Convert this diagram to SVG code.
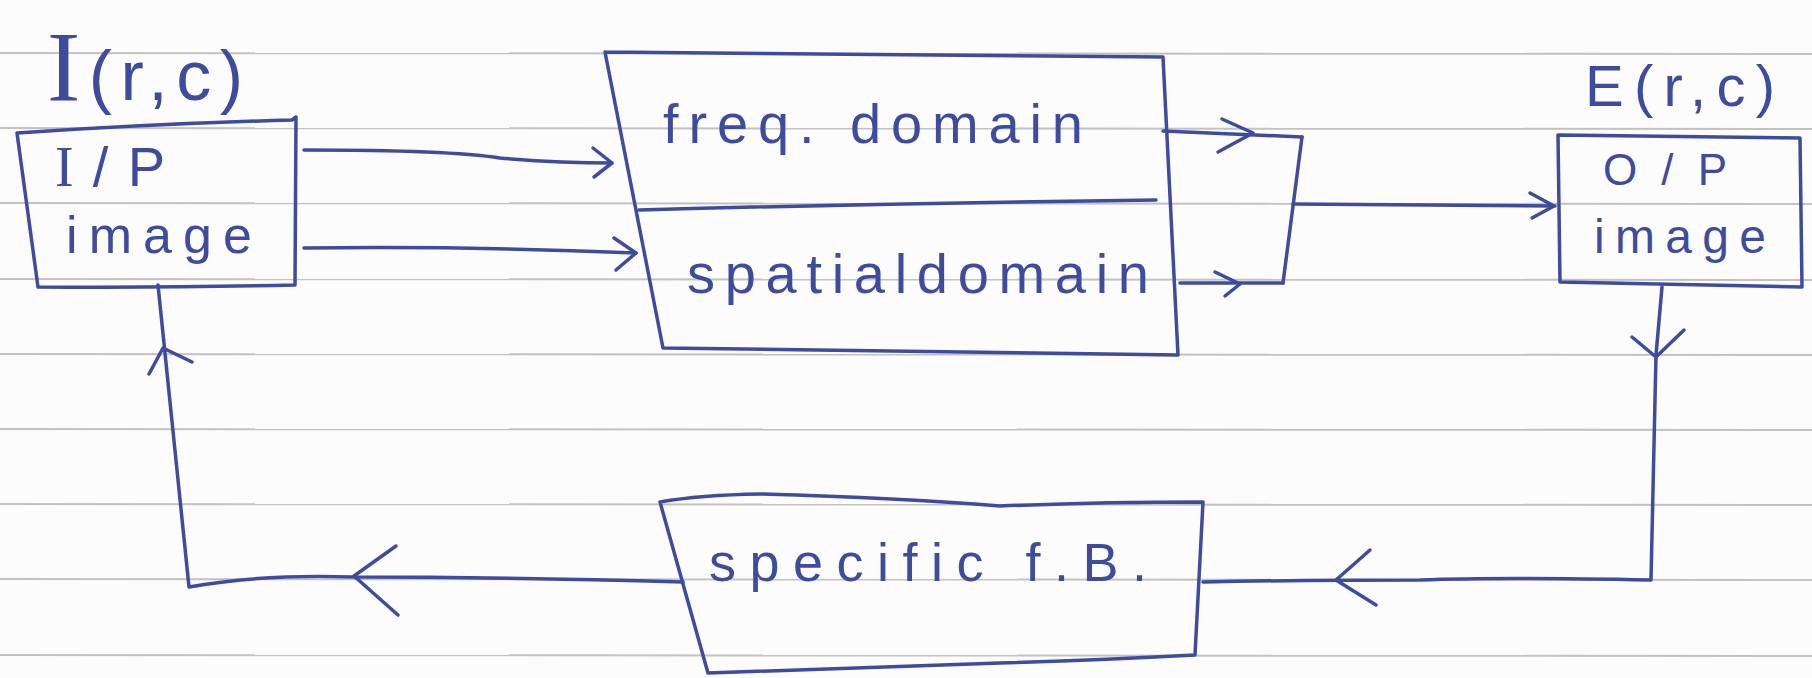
<svg xmlns="http://www.w3.org/2000/svg" width="1812" height="678" viewBox="0 0 1812 678">
  <style>
    .rule { stroke: #c2c2c2; stroke-width: 2; fill: none; }
    .ink { stroke: #3f4b9c; stroke-width: 3.5; fill: none; stroke-linecap: round; stroke-linejoin: round; }
    .hand { font-family: "Liberation Sans", "DejaVu Sans", sans-serif; fill: #3f4b9c; }
    .serif { font-family: "Liberation Serif", "DejaVu Serif", serif; }
  </style>
  <rect x="0" y="0" width="1812" height="678" fill="#fcfcfc"/>
  <g id="ruled-paper">
    <line class="rule" x1="0" y1="53" x2="1812" y2="54"/>
    <line class="rule" x1="0" y1="128" x2="1812" y2="129"/>
    <line class="rule" x1="0" y1="203" x2="1812" y2="204"/>
    <line class="rule" x1="0" y1="279" x2="1812" y2="280"/>
    <line class="rule" x1="0" y1="354" x2="1812" y2="355"/>
    <line class="rule" x1="0" y1="429" x2="1812" y2="430"/>
    <line class="rule" x1="0" y1="504" x2="1812" y2="505"/>
    <line class="rule" x1="0" y1="579" x2="1812" y2="580"/>
    <line class="rule" x1="0" y1="655" x2="1812" y2="656"/>
  </g>

  <g id="input-image">
    <path class="ink" d="M17,133 Q150,124 292,120 L296,117 L295,285 Q170,288 38,287 L17,133"/>
    <text class="hand" x="47" y="100" textLength="196" lengthAdjust="spacing"><tspan class="serif" font-size="100">I</tspan><tspan font-size="70">(r,c)</tspan></text>
    <text class="hand" x="55" y="186" font-size="56" textLength="110" lengthAdjust="spacing"><tspan class="serif">I</tspan>/P</text>
    <text class="hand" x="66" y="253" font-size="52" textLength="186" lengthAdjust="spacing">image</text>
  </g>

  <g id="domain-block">
    <path class="ink" d="M605,52 Q880,54 1163,57 L1178,355 Q920,352 663,348 L605,52"/>
    <path class="ink" d="M639,210 Q900,203 1156,200"/>
    <text class="hand" x="663" y="143" font-size="56" textLength="420" lengthAdjust="spacing">freq. domain</text>
    <text class="hand" x="687" y="293" font-size="56" textLength="462" lengthAdjust="spacing">spatialdomain</text>
  </g>

  <g id="output-image">
    <path class="ink" d="M1558,135 L1800,138 L1802,287 L1560,282 Z"/>
    <text class="hand" x="1585" y="106" font-size="58" textLength="190" lengthAdjust="spacing">E(r,c)</text>
    <text class="hand" x="1603" y="185" font-size="44" textLength="124" lengthAdjust="spacing">O/P</text>
    <text class="hand" x="1594" y="253" font-size="48" textLength="172" lengthAdjust="spacing">image</text>
  </g>

  <g id="specific-fb">
    <path class="ink" d="M660,502 Q700,495 760,494 Q900,498 1000,506 Q1100,502 1203,502 L1195,655 Q1100,660 1000,663 Q850,668 708,673 L660,502"/>
    <text class="hand" x="709" y="581" font-size="54" textLength="438" lengthAdjust="spacing">specific f.B.</text>
  </g>

  <g id="connectors">
    <path class="ink" d="M304,150 Q450,150 500,158 Q560,163 612,163"/>
    <path class="ink" d="M593,148 L612,163 L594,177"/>
    <path class="ink" d="M304,248 Q470,246 636,253"/>
    <path class="ink" d="M614,238 L636,253 L616,270"/>
    <path class="ink" d="M1163,131 L1302,137"/>
    <path class="ink" d="M1222,119 L1253,133 L1218,152"/>
    <path class="ink" d="M1180,283 L1283,283"/>
    <path class="ink" d="M1215,272 L1240,284 L1225,296"/>
    <path class="ink" d="M1302,137 L1283,283"/>
    <path class="ink" d="M1293,204 L1555,206"/>
    <path class="ink" d="M1530,193 L1554,206 L1532,218"/>
    <path class="ink" d="M1662,287 L1656,355 L1651,580 Q1500,577 1420,580 Q1300,580 1203,582"/>
    <path class="ink" d="M1632,337 L1656,357 L1684,330"/>
    <path class="ink" d="M1370,550 L1336,580 L1376,605"/>
    <path class="ink" d="M683,582 Q500,577 353,577 Q260,574 189,587 L158,285"/>
    <path class="ink" d="M396,546 L354,576 L398,615"/>
    <path class="ink" d="M149,374 L163,348 L192,362"/>
  </g>
</svg>
